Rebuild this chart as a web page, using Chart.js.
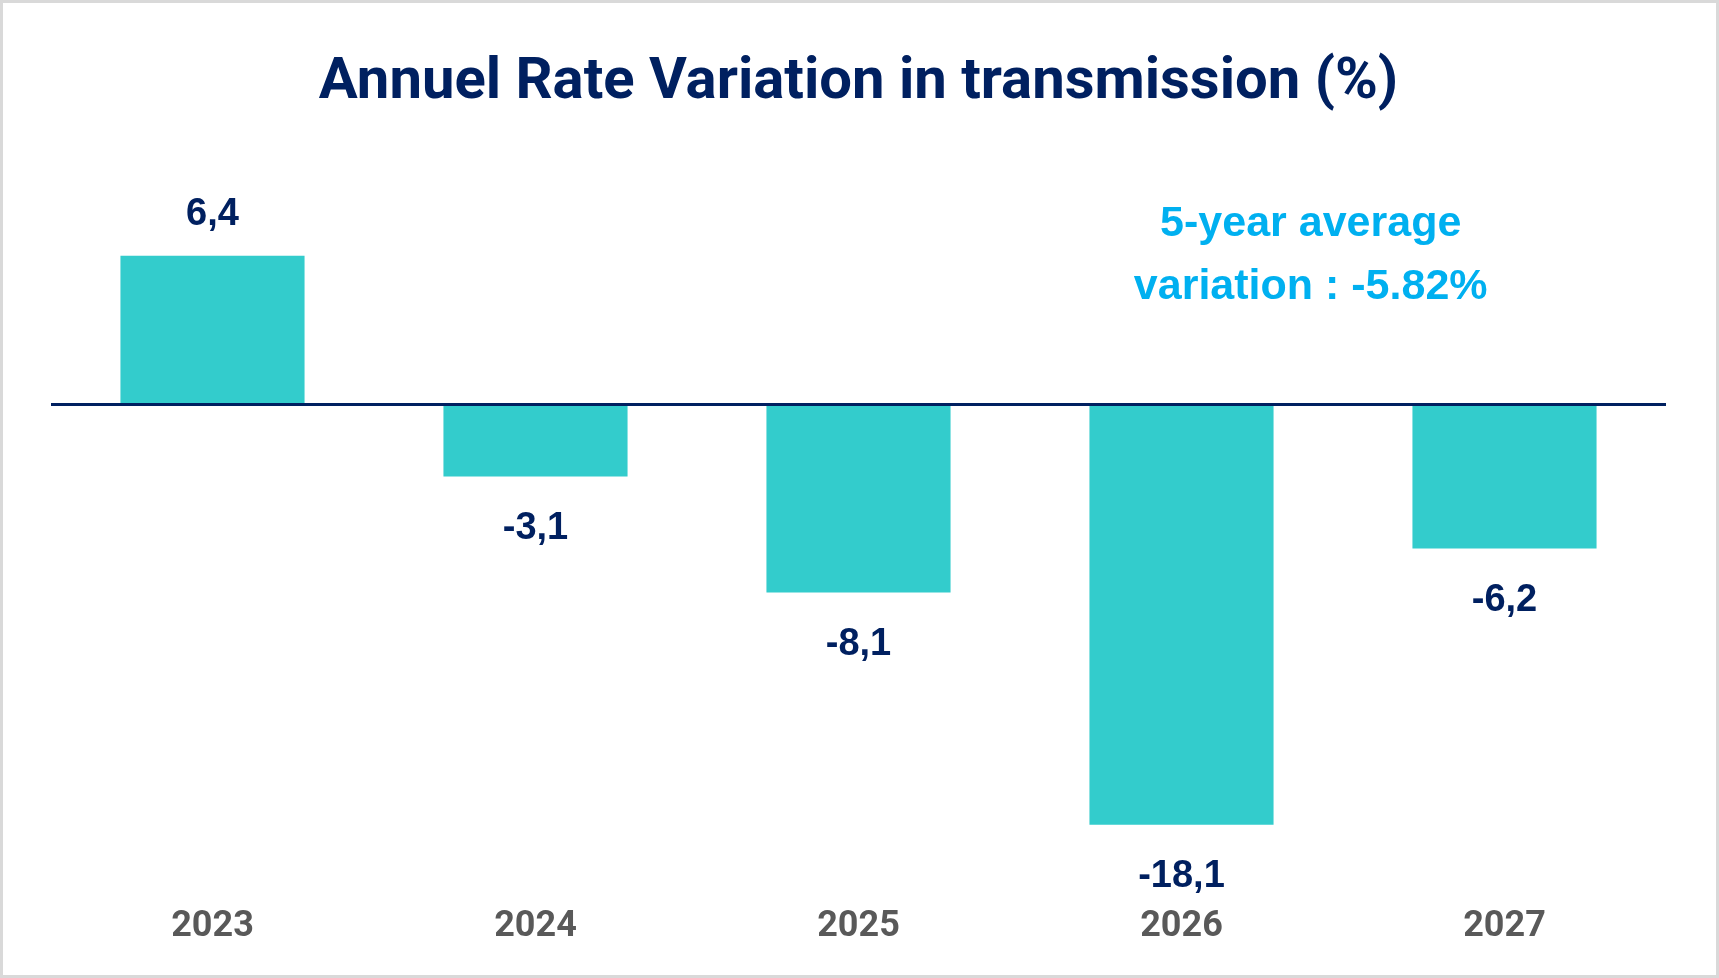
<!DOCTYPE html>
<html>
<head>
<meta charset="utf-8">
<script src="https://cdn.jsdelivr.net/npm/chart.js@4"></script>
<style>
  html, body { margin: 0; padding: 0; background: #fff; }
  #wrap {
    width: 1719px; height: 978px; box-sizing: border-box;
    border: 3px solid #d9d9d9; background: #fff; position: relative;
  }
  #wrap canvas { display: block; }
</style>
</head>
<body>
<div id="wrap"><canvas id="rateChart"></canvas></div>
<script>
// --- data ---
const years = ['2023', '2024', '2025', '2026', '2027'];
const variations = [6.4, -3.1, -8.1, -18.1, -6.2];
const avgNote = ['5-year average', 'variation : -5.82%'];

const NAVY = '#002060';
const TEAL = '#33CCCC';

// valeurs au-dessus / en dessous des barres, format "6,4"
const barLabels = {
    id: 'barLabels',
    afterDatasetsDraw(chart) {
        const { ctx } = chart;
        const meta = chart.getDatasetMeta(0);
        ctx.save();
        ctx.font = 'bold 38px "Liberation Sans", Arial, sans-serif';
        ctx.fillStyle = NAVY;
        ctx.textAlign = 'center';
        ctx.textBaseline = 'middle';
        meta.data.forEach((bar, i) => {
            const v = variations[i];
            const txt = v.toFixed(1).replace('.', ',');
            const y = v >= 0 ? bar.y - 41 : bar.y + 52;
            ctx.fillText(txt, bar.x, y);
        });
        ctx.restore();
    }
};

// encadré "moyenne sur 5 ans"
const avgText = {
    id: 'avgText',
    afterDraw(chart) {
        const { ctx, chartArea } = chart;
        const x = chartArea.left + chartArea.width * 0.78;
        const y0 = chartArea.top + 6;
        ctx.save();
        ctx.font = 'bold 43px "Liberation Sans", Arial, sans-serif';
        ctx.fillStyle = '#00B0F0';
        ctx.textAlign = 'center';
        ctx.textBaseline = 'middle';
        avgNote.forEach((line, i) => ctx.fillText(line, x, y0 + i * 63));
        ctx.restore();
    }
};

new Chart(document.getElementById('rateChart'), {
    type: 'bar',
    data: {
        labels: years,
        datasets: [{
            data: variations,
            backgroundColor: TEAL,
            borderWidth: 0,
            barPercentage: 0.57,
            categoryPercentage: 1
        }]
    },
    options: {
        responsive: true,
        maintainAspectRatio: false,
        animation: false,
        layout: { padding: { left: 48, right: 50, top: 0, bottom: 0 } },
        plugins: {
            legend: { display: false },
            tooltip: { enabled: false },
            title: {
                display: true,
                text: 'Annuel Rate Variation in transmission (%)',
                color: NAVY,
                font: { family: 'Roboto, sans-serif', size: 58, weight: 'bold' },
                padding: { top: 46, bottom: 100 }
            }
        },
        scales: {
            x: {
                grid: { display: false, drawTicks: false },
                border: { display: false },
                ticks: {
                    color: '#595959',
                    padding: 36,
                    font: { family: '"Liberation Sans Narrow", Roboto, sans-serif', size: 36, weight: 'bold' }
                },
                // hauteur fixe de l'axe pour placer la zone de tracé
                afterFit: (scale) => { scale.height = 106; }
            },
            y: {
                min: -20,
                max: 8,
                z: 1,
                border: { display: false },
                ticks: { display: false, stepSize: 2 },
                grid: {
                    drawTicks: false,
                    tickLength: 0,
                    lineWidth: 3,
                    color: (c) => (c.tick && c.tick.value === 0 ? NAVY : 'rgba(0,0,0,0)')
                }
            }
        }
    },
    plugins: [barLabels, avgText]
});
</script>
</body>
</html>
